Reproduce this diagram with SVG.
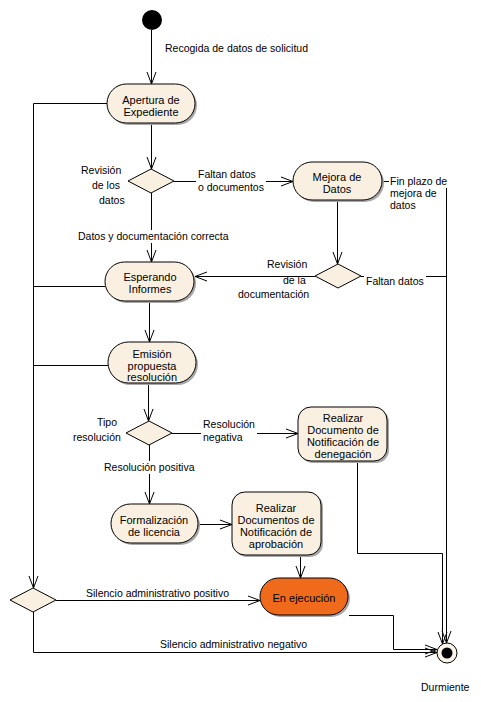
<svg xmlns="http://www.w3.org/2000/svg" width="481" height="702" viewBox="0 0 481 702">
<style>
  .node { fill: #faf0e2; stroke: #000; stroke-width: 1; }
  .shadow { fill: #a8a8a8; stroke: none; }
  .active { fill: #f06a1c; stroke: #000; stroke-width: 1; }
  .dec { fill: #faf0e2; stroke: #000; stroke-width: 1; }
  .nt { font-family: "Liberation Sans", Arial, sans-serif; font-size: 11px; fill: #000; text-anchor: middle; }
  .lt { font-family: "Liberation Sans", Arial, sans-serif; font-size: 10.5px; fill: #000; }
  .edge { fill: none; stroke: #000; stroke-width: 1; }
  .arr { fill: none; stroke: #000; stroke-width: 1; marker-end: url(#open); }
  .bg { fill: #fff; stroke: none; }
</style>
<defs>
  <marker id="open" markerUnits="userSpaceOnUse" markerWidth="14" markerHeight="12" viewBox="0 0 14 12" refX="13" refY="6" orient="auto">
    <path d="M1,1.5 L13,6 L1,10.5" fill="none" stroke="#000" stroke-width="1"/>
  </marker>
</defs>
<rect width="481" height="702" fill="#fff"/>

<g id="connectors">
  <path class="arr" d="M151.5,30 L151.5,84"/>
  <path class="arr" d="M151.5,123 L151.5,169"/>
  <path class="arr" d="M174,181.5 L293,181.5"/>
  <path class="arr" d="M151.5,193 L151.5,262"/>
  <path class="arr" d="M337.5,200 L337.5,264"/>
  <path class="arr" d="M315,276.5 L195,276.5"/>
  <path class="edge" d="M361,276.5 L446.5,276.5"/>
  <path class="arr" d="M382,181.5 L446.5,181.5 L446.5,643"/>
  <path class="arr" d="M149.5,301 L149.5,342"/>
  <path class="arr" d="M148.5,383 L148.5,421"/>
  <path class="arr" d="M172,433.5 L298,433.5"/>
  <path class="arr" d="M149.5,445 L149.5,504"/>
  <path class="arr" d="M198,524.5 L232,524.5"/>
  <path class="arr" d="M300.5,555 L300.5,578"/>
  <path class="arr" d="M357.5,461 L357.5,553.5 L442.5,553.5 L442.5,644"/>
  <path class="arr" d="M349,615.5 L393.5,615.5 L393.5,649.5 L437,649.5"/>
  <path class="arr" d="M107,103.5 L33.5,103.5 L33.5,588"/>
  <path class="edge" d="M105,286.5 L33.5,286.5"/>
  <path class="edge" d="M108,365.5 L33.5,365.5"/>
  <path class="arr" d="M56,600.5 L260,600.5"/>
  <path class="arr" d="M33.5,612 L33.5,652.5 L437,652.5"/>

  <g id="labels">
    <text class="lt" x="165" y="52">Recogida de datos de solicitud</text>
    <rect class="bg" x="196" y="171" width="70" height="22"/>
    <text class="lt" x="198" y="178">Faltan datos</text>
    <text class="lt" x="198" y="191">o documentos</text>
    <rect class="bg" x="76" y="230" width="156" height="13"/>
    <text class="lt" x="78" y="240">Datos y documentación correcta</text>
    <rect class="bg" x="389" y="174" width="61" height="14"/>
    <text class="lt" x="390" y="185">Fin plazo de</text>
    <text class="lt" x="390" y="197">mejora de</text>
    <text class="lt" x="390" y="209">datos</text>
    <text class="lt" x="267" y="268">Revisión</text>
    <text class="lt" x="283" y="284">de la</text>
    <text class="lt" x="238" y="298">documentación</text>
    <rect class="bg" x="364" y="272" width="62" height="13"/>
    <text class="lt" x="366" y="285">Faltan datos</text>
    <rect class="bg" x="201" y="417" width="56" height="25"/>
    <text class="lt" x="203" y="428">Resolución</text>
    <text class="lt" x="203" y="441">negativa</text>
    <rect class="bg" x="102" y="461" width="92" height="13"/>
    <text class="lt" x="104" y="471">Resolución positiva</text>
    <text class="lt" x="86" y="597">Silencio administrativo positivo</text>
    <text class="lt" x="160" y="648">Silencio administrativo negativo</text>
  </g>
</g>

<g id="inicio">
  <circle cx="152" cy="20" r="10" fill="#000"/>
</g>

<g id="apertura">
  <rect class="shadow" x="109" y="86" width="88" height="39" rx="19.5"/>
  <rect class="node" x="107" y="84" width="88" height="39" rx="19.5"/>
  <text class="nt" x="151" y="104">Apertura de</text>
  <text class="nt" x="151" y="116">Expediente</text>
</g>

<g id="revision-datos">
  <path class="dec" d="M128,181 L151,169 L174,181 L151,193 Z"/>
  <text class="lt" x="81" y="174">Revisión</text>
  <text class="lt" x="92" y="189">de los</text>
  <text class="lt" x="99" y="204">datos</text>
</g>

<g id="mejora">
  <rect class="shadow" x="295" y="164" width="89" height="38" rx="19"/>
  <rect class="node" x="293" y="162" width="89" height="38" rx="19"/>
  <text class="nt" x="337" y="181">Mejora de</text>
  <text class="nt" x="337" y="193">Datos</text>
</g>

<g id="revision-documentacion">
  <path class="dec" d="M315,276 L338,264 L361,276 L338,288 Z"/>
</g>

<g id="esperando">
  <rect class="shadow" x="107" y="264" width="89" height="39" rx="19.5"/>
  <rect class="node" x="105" y="262" width="89" height="39" rx="19.5"/>
  <text class="nt" x="150" y="281">Esperando</text>
  <text class="nt" x="150" y="293">Informes</text>
</g>

<g id="emision">
  <rect class="shadow" x="110" y="344" width="88" height="41" rx="20.5"/>
  <rect class="node" x="108" y="342" width="88" height="41" rx="20.5"/>
  <text class="nt" x="152" y="358">Emisión</text>
  <text class="nt" x="152" y="370">propuesta</text>
  <text class="nt" x="152" y="381">resolución</text>
</g>

<g id="tipo-resolucion">
  <path class="dec" d="M126,433 L149,421 L172,433 L149,445 Z"/>
  <text class="lt" x="97" y="426">Tipo</text>
  <text class="lt" x="73" y="441">resolución</text>
</g>

<g id="denegacion">
  <rect class="shadow" x="300" y="409" width="89" height="54" rx="13"/>
  <rect class="node" x="298" y="407" width="89" height="54" rx="13"/>
  <text class="nt" x="343" y="422">Realizar</text>
  <text class="nt" x="343" y="434">Documento de</text>
  <text class="nt" x="343" y="446">Notificación de</text>
  <text class="nt" x="343" y="458">denegación</text>
</g>

<g id="formalizacion">
  <rect class="shadow" x="113" y="506" width="87" height="39" rx="19.5"/>
  <rect class="node" x="111" y="504" width="87" height="39" rx="19.5"/>
  <text class="nt" x="154" y="524">Formalización</text>
  <text class="nt" x="154" y="536">de licencia</text>
</g>

<g id="aprobacion">
  <rect class="shadow" x="234" y="494" width="89" height="63" rx="13"/>
  <rect class="node" x="232" y="492" width="89" height="63" rx="13"/>
  <text class="nt" x="276" y="512">Realizar</text>
  <text class="nt" x="276" y="524">Documentos de</text>
  <text class="nt" x="276" y="536">Notificación de</text>
  <text class="nt" x="276" y="548">aprobación</text>
</g>

<g id="ejecucion">
  <rect class="shadow" x="262" y="580" width="88" height="37" rx="18.5"/>
  <rect class="active" x="260" y="578" width="88" height="37" rx="18.5"/>
  <text class="nt" x="304" y="602">En ejecución</text>
</g>

<g id="silencio">
  <path class="dec" d="M10,600 L33,588 L56,600 L33,612 Z"/>
</g>

<g id="durmiente">
  <circle cx="447" cy="653" r="10" fill="#fdf6e8" stroke="#000" stroke-width="1"/>
  <circle cx="447" cy="653" r="5.5" fill="#000"/>
  <text class="lt" x="421" y="691">Durmiente</text>
</g>
</svg>
